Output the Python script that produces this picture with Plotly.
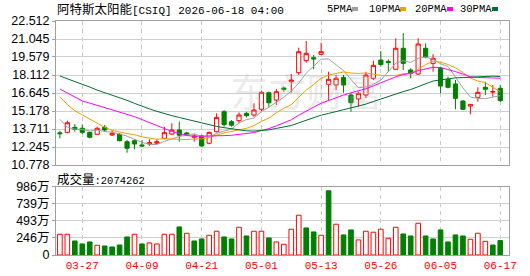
import plotly.graph_objects as go

DATES = ["03-24", "03-25", "03-26", "03-27", "03-30", "03-31", "04-01", "04-02", "04-06", "04-07",
         "04-08", "04-09", "04-10", "04-13", "04-14", "04-15", "04-16", "04-17", "04-20", "04-21",
         "04-22", "04-23", "04-24", "04-27", "04-28", "04-29", "04-30", "05-01", "05-04", "05-05",
         "05-06", "05-07", "05-08", "05-11", "05-12", "05-13", "05-14", "05-15", "05-18", "05-19",
         "05-20", "05-21", "05-22", "05-26", "05-27", "05-28", "05-29", "06-01", "06-02", "06-03",
         "06-04", "06-05", "06-08", "06-09", "06-10", "06-11", "06-12", "06-15", "06-16", "06-17"]

OPEN = [13.40, 13.44, 13.85, 13.77, 13.44, 13.28, 13.85, 13.22, 13.28, 12.68,
        12.76, 12.41, 12.49, 12.55, 12.95, 13.30, 13.63, 13.39, 13.04, 13.14,
        12.55, 13.49, 15.12, 14.31, 14.39, 14.99, 14.85, 15.32, 16.67, 16.07,
        17.05, 17.57, 18.30, 19.28, 19.52, 19.80, 17.35, 17.30, 17.92, 16.48,
        16.16, 16.48, 17.84, 19.33, 19.22, 18.58, 20.29, 18.52, 18.19, 20.29,
        19.06, 18.66, 17.76, 17.38, 15.99, 15.58, 16.29, 17.11, 16.72, 17.03]
HIGH = [13.57, 14.39, 14.12, 14.09, 13.49, 13.90, 14.04, 13.63, 13.36, 12.81,
        12.87, 12.81, 12.87, 12.87, 13.90, 14.18, 14.31, 13.49, 13.30, 13.22,
        13.49, 14.99, 15.26, 14.45, 15.07, 15.12, 15.81, 16.85, 16.75, 16.97,
        17.16, 18.19, 20.34, 20.88, 19.74, 20.74, 18.38, 18.11, 18.11, 16.62,
        16.75, 18.38, 19.28, 20.07, 19.39, 21.10, 21.51, 18.66, 21.10, 20.69,
        19.80, 18.79, 17.97, 17.70, 16.07, 15.72, 17.11, 17.57, 17.30, 17.30]
LOW = [12.95, 13.36, 13.49, 13.30, 12.95, 13.22, 13.49, 13.14, 12.71, 11.78,
       12.06, 12.27, 12.33, 12.49, 12.87, 13.22, 12.68, 13.14, 12.68, 12.25,
       12.46, 13.44, 13.90, 13.90, 14.18, 14.66, 14.71, 15.18, 15.48, 15.67,
       16.75, 16.67, 18.11, 19.11, 18.57, 19.74, 16.07, 16.89, 16.67, 15.12,
       15.53, 16.21, 17.70, 18.79, 18.38, 18.52, 18.52, 17.84, 18.11, 19.47,
       18.38, 16.62, 17.03, 15.32, 15.26, 14.91, 15.94, 16.48, 16.34, 15.94]
CLOSE = [13.33, 14.22, 13.69, 13.44, 13.04, 13.77, 13.63, 13.36, 12.76, 12.14,
         12.49, 12.33, 12.60, 12.68, 13.41, 13.63, 13.20, 13.24, 13.14, 12.33,
         13.44, 14.66, 14.06, 14.02, 14.85, 14.80, 15.26, 16.70, 15.85, 16.75,
         16.95, 17.70, 20.01, 19.88, 19.42, 20.01, 17.76, 17.84, 17.30, 15.85,
         16.62, 18.11, 18.90, 18.97, 19.12, 20.29, 19.06, 18.25, 20.64, 19.60,
         19.47, 17.21, 17.11, 16.21, 15.32, 15.72, 16.70, 16.95, 16.76, 16.02]
PREV_CLOSE = 13.10

VOLUME = [2990000, 2990000, 2020000, 1590000, 1880000, 1400000, 1300000, 1160000, 1440000, 2600000,
          2990000, 1590000, 1730000, 1590000, 2990000, 2990000, 4040000, 3130000, 2020000, 2310000,
          2840000, 3420000, 2600000, 2310000, 3990000, 2740000, 3420000, 3420000, 2450000, 1880000,
          1540000, 3710000, 5730000, 3900000, 3320000, 2840000, 9240000, 4430000, 2890000, 3610000,
          2170000, 3420000, 3280000, 3710000, 2410000, 3990000, 3030000, 2740000, 4570000, 2740000,
          2310000, 3610000, 1880000, 2890000, 2740000, 2260000, 3130000, 1970000, 1440000, 2074262]

MA5 = [14.50, 13.85, 13.70, 13.68, 13.54, 13.63, 13.51, 13.45, 13.31, 13.13,
       12.88, 12.62, 12.46, 12.45, 12.70, 12.93, 13.10, 13.23, 13.32, 13.11,
       13.07, 13.36, 13.53, 13.70, 14.21, 14.48, 14.60, 15.13, 15.49, 15.87,
       16.30, 16.79, 17.45, 18.26, 18.79, 19.40, 19.42, 18.98, 18.47, 17.75,
       17.07, 17.14, 17.36, 17.69, 18.34, 19.08, 19.27, 19.14, 19.47, 19.57,
       19.40, 19.03, 18.81, 17.92, 17.06, 16.31, 16.21, 16.18, 16.29, 16.43]
MA10 = [16.34, 15.70, 15.20, 14.85, 14.50, 14.15, 13.85, 13.60, 13.45, 13.34,
        13.25, 13.07, 12.96, 12.88, 12.92, 12.90, 12.86, 12.85, 12.89, 12.91,
        13.00, 13.23, 13.38, 13.51, 13.66, 13.77, 13.98, 14.33, 14.60, 15.04,
        15.39, 15.69, 16.29, 16.88, 17.33, 17.85, 18.10, 18.22, 18.36, 18.27,
        18.24, 18.28, 18.17, 18.08, 18.05, 18.08, 18.21, 18.25, 18.58, 18.96,
        19.24, 19.15, 18.97, 18.70, 18.32, 17.86, 17.62, 17.49, 17.11, 16.75]
MA20 = [16.97, 16.65, 16.32, 16.00, 15.82, 15.64, 15.46, 15.28, 15.12, 14.95,
        14.72, 14.48, 14.22, 13.98, 13.75, 13.52, 13.32, 13.18, 13.12, 13.12,
        13.13, 13.15, 13.17, 13.20, 13.29, 13.34, 13.42, 13.59, 13.74, 13.97,
        14.20, 14.46, 14.83, 15.19, 15.49, 15.81, 16.04, 16.27, 16.48, 16.66,
        16.81, 16.99, 17.23, 17.48, 17.69, 17.96, 18.15, 18.23, 18.47, 18.61,
        18.74, 18.72, 18.57, 18.39, 18.18, 17.97, 17.91, 17.87, 17.84, 17.85]
MA30 = [18.03, 17.82, 17.60, 17.38, 17.13, 16.88, 16.68, 16.48, 16.28, 16.05,
        15.80, 15.55, 15.35, 15.15, 14.95, 14.80, 14.65, 14.50, 14.35, 14.20,
        14.05, 13.92, 13.82, 13.72, 13.63, 13.56, 13.54, 13.57, 13.64, 13.76,
        13.88, 14.00, 14.21, 14.42, 14.64, 14.84, 14.98, 15.13, 15.28, 15.41,
        15.54, 15.74, 15.95, 16.16, 16.35, 16.57, 16.76, 16.93, 17.18, 17.42,
        17.62, 17.71, 17.81, 17.88, 17.90, 17.93, 17.98, 17.99, 18.02, 17.99]

PRICE_TICKS = [10.778, 12.245, 13.711, 15.178, 16.645, 18.112, 19.579, 21.045, 22.512]
VOL_TICKS = [0, 2465000, 4930000, 7395000, 9860000]
VOL_TICK_TEXT = ["0", "246万", "493万", "739万", "986万"]
DATE_TICKS = ["03-27", "04-09", "04-21", "05-01", "05-13", "05-26", "06-05", "06-17"]

STOCK_NAME = "阿特斯太阳能"
STOCK_CODE = "CSIQ"
TIMESTAMP = "2026-06-18 04:00"
MA_NAMES = ["5PMA", "10PMA", "20PMA", "30PMA"]
MA_COLORS = ["#a0a0a0", "#f0a000", "#ff00ff", "#006f30"]

RED = "#ff0000"
GREEN = "#008000"

# pixel helpers for the 530x276 canvas (plot area x 56..509, y 21..255)
L, R, T, B = 56, 509, 21, 255
def px(x):
    return (x - L) / (R - L)
def py(y):
    return (B - y) / (B - T)

fig = go.Figure()

# watermark
fig.add_trace(go.Scatter(x=["05-11"], y=[16.35], mode="text", text=["东方财富"],
                         textfont=dict(size=38, color="rgba(185,185,185,0.30)",
                                       family="Noto Sans CJK SC"),
                         hoverinfo="skip", xaxis="x", yaxis="y", cliponaxis=False))

for name, vals, col in zip(MA_NAMES, [MA5, MA10, MA20, MA30], MA_COLORS):
    fig.add_trace(go.Scatter(x=DATES, y=vals, mode="lines", name=name,
                             line=dict(color=col, width=1), xaxis="x", yaxis="y"))

fig.add_trace(go.Candlestick(
    x=DATES, open=OPEN, high=HIGH, low=LOW, close=CLOSE,
    increasing=dict(line=dict(color=RED, width=1), fillcolor="#ffffff"),
    decreasing=dict(line=dict(color=GREEN, width=1), fillcolor=GREEN),
    whiskerwidth=0, xaxis="x", yaxis="y"))

prev = [PREV_CLOSE] + CLOSE[:-1]
up_x = [d for d, c, p in zip(DATES, CLOSE, prev) if c >= p]
up_v = [v for v, c, p in zip(VOLUME, CLOSE, prev) if c >= p]
dn_x = [d for d, c, p in zip(DATES, CLOSE, prev) if c < p]
dn_v = [v for v, c, p in zip(VOLUME, CLOSE, prev) if c < p]

fig.add_trace(go.Bar(x=up_x, y=up_v, width=0.62, xaxis="x2", yaxis="y2",
                     marker=dict(color="#ffffff", line=dict(color=RED, width=1))))
fig.add_trace(go.Bar(x=dn_x, y=dn_v, width=0.62, xaxis="x2", yaxis="y2",
                     marker=dict(color=GREEN, line=dict(color=GREEN, width=1))))

xcommon = dict(type="category", categoryorder="array", categoryarray=DATES,
               range=[-0.52, 60.17], tickvals=DATE_TICKS, ticktext=DATE_TICKS,
               showgrid=True, gridcolor="#c8c8c8", griddash="4px,4px", gridwidth=1,
               showline=True, mirror=True, linecolor="#a0a0a0", linewidth=1,
               ticks="", zeroline=False, fixedrange=True)

tickfont = dict(family="Liberation Sans, Noto Sans CJK SC", size=12.5, color="#000000")

fig.update_layout(
    width=530, height=276,
    margin=dict(l=L, r=530 - R, t=T, b=276 - B, autoexpand=False),
    paper_bgcolor="#ffffff", plot_bgcolor="#ffffff",
    showlegend=False, bargap=0.3, boxgap=0.25, boxgroupgap=0.25,
    xaxis=dict(**xcommon, anchor="y", showticklabels=False,
               rangeslider=dict(visible=False)),
    xaxis2=dict(**xcommon, anchor="y2", showticklabels=True,
                tickfont=dict(family="Liberation Mono", size=11, color=RED)),
    yaxis=dict(domain=[py(165), 1], range=[PRICE_TICKS[0], PRICE_TICKS[-1]],
               tickvals=PRICE_TICKS, ticktext=[f"{v:.3f}" for v in PRICE_TICKS],
               showgrid=True, gridcolor="#d0d0d0", gridwidth=1,
               showline=True, mirror=True, linecolor="#a0a0a0",
               ticks="outside", ticklen=3, tickcolor="#a0a0a0",
               tickfont=tickfont, zeroline=False, fixedrange=True),
    yaxis2=dict(domain=[0, py(186.5)], range=[0, VOL_TICKS[-1]],
                tickvals=VOL_TICKS, ticktext=VOL_TICK_TEXT,
                showgrid=True, gridcolor="#d0d0d0", gridwidth=1,
                showline=True, mirror=True, linecolor="#a0a0a0",
                ticks="outside", ticklen=3, tickcolor="#a0a0a0",
                tickfont=tickfont, zeroline=False, fixedrange=True),
)

annotations = [
    dict(x=px(55), y=py(8.5), xref="paper", yref="paper", xanchor="left", yanchor="middle",
         showarrow=False,
         text=(f"<span style='font-family:Noto Sans CJK SC;font-size:12.5px'>{STOCK_NAME}</span>"
               f"<span style='font-family:Liberation Mono;font-size:11px'>[{STOCK_CODE}] {TIMESTAMP}</span>"),
         font=dict(color="#000000", size=12)),
    dict(x=px(55), y=py(178.5), xref="paper", yref="paper", xanchor="left", yanchor="middle",
         showarrow=False,
         text=(f"<span style='font-family:Noto Sans CJK SC;font-size:12.5px'>成交量</span>"
               f"<span style='font-family:Liberation Mono;font-size:10.5px'>:{VOLUME[-1]}</span>"),
         font=dict(color="#000000", size=12)),
]
legend_x = [325, 367, 413, 458]
square_x = [352, 400, 447, 492]
shapes = []
for name, col, lx, sx in zip(MA_NAMES, MA_COLORS, legend_x, square_x):
    annotations.append(dict(x=px(lx), y=py(9), xref="paper", yref="paper",
                            xanchor="left", yanchor="middle", showarrow=False, text=name,
                            font=dict(family="Liberation Mono", size=10.5, color="#000000")))
    shapes.append(dict(type="rect", xref="paper", yref="paper",
                       x0=px(sx), x1=px(sx + 6), y0=py(11), y1=py(7),
                       fillcolor=col, line=dict(width=0)))

fig.update_layout(annotations=annotations, shapes=shapes)

fig.write_html("out.html")
